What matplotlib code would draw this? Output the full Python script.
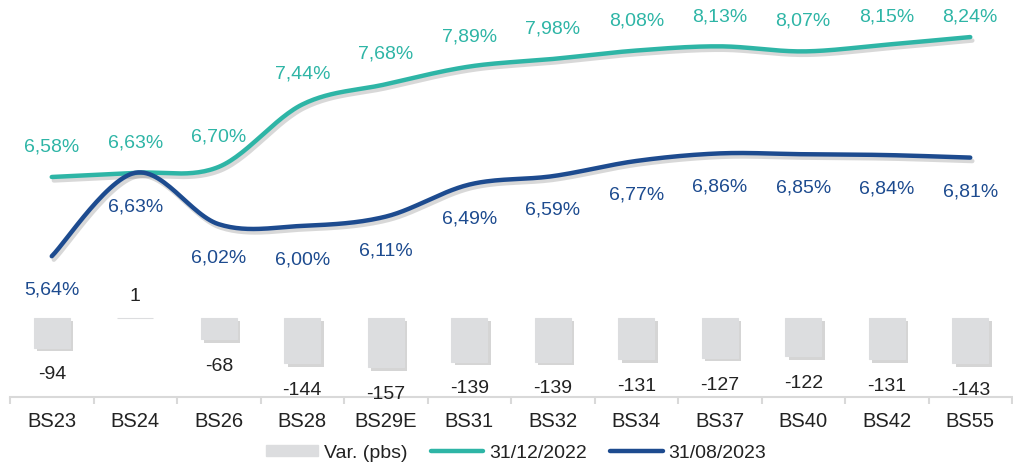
import numpy as np
import matplotlib
matplotlib.use("Agg")
import matplotlib.pyplot as plt
import matplotlib.patheffects as pe
from matplotlib.lines import Line2D
from matplotlib.patches import Patch

categories = ["BS23", "BS24", "BS26", "BS28", "BS29E", "BS31", "BS32", "BS34", "BS37", "BS40", "BS42", "BS55"]
dec2022 = [6.58, 6.63, 6.70, 7.44, 7.68, 7.89, 7.98, 8.08, 8.13, 8.07, 8.15, 8.24]
aug2023 = [5.64, 6.63, 6.02, 6.00, 6.11, 6.49, 6.59, 6.77, 6.86, 6.85, 6.84, 6.81]
var_pbs = [-94, 1, -68, -144, -157, -139, -139, -131, -127, -122, -131, -143]

FONT = "Liberation Sans"
TEAL = "#2EB5A6"
NAVY = "#1D4B8F"
BARC = "#DCDDDF"
AXC = "#D9D9D9"
TXT = "#222222"

def smooth(xs, ys, n=30):
    xs = np.asarray(xs, float); ys = np.asarray(ys, float)
    px = np.concatenate([[xs[0]], xs, [xs[-1]]])
    py = np.concatenate([[ys[0]], ys, [ys[-1]]])
    ox, oy = [], []
    t = np.linspace(0, 1, n)
    for i in range(1, len(px) - 2):
        p0x, p1x, p2x, p3x = px[i-1], px[i], px[i+1], px[i+2]
        p0y, p1y, p2y, p3y = py[i-1], py[i], py[i+1], py[i+2]
        c1x = p1x + (p2x - p0x) / 6; c1y = p1y + (p2y - p0y) / 6
        c2x = p2x - (p3x - p1x) / 6; c2y = p2y - (p3y - p1y) / 6
        bx = (1-t)**3*p1x + 3*(1-t)**2*t*c1x + 3*(1-t)*t**2*c2x + t**3*p2x
        by = (1-t)**3*p1y + 3*(1-t)**2*t*c1y + 3*(1-t)*t**2*c2y + t**3*p2y
        ox.extend(bx); oy.extend(by)
    return np.array(ox), np.array(oy)

fig = plt.figure(figsize=(10.13, 4.68), dpi=100)
ax = fig.add_axes([10/1013, 71/468, 1002/1013, 387/468])
ax2 = ax.twinx()

x = np.arange(len(categories))
ax.set_xlim(-0.5, len(categories) - 0.5)
ax.set_ylim(3.970, 8.561)
ax2.set_ylim(-250.8, 977.8)

shadow = [pe.SimpleLineShadow(offset=(1.5, -2.5), shadow_color="#808080", alpha=0.3), pe.Normal()]
for data, col in [(dec2022, TEAL), (aug2023, NAVY)]:
    sx, sy = smooth(x, data)
    ax.plot(sx, sy, color=col, lw=3.2, solid_capstyle="round", path_effects=shadow, zorder=3)

for i, v in enumerate(dec2022):
    ax.text(x[i], min(v + 0.356, 8.478), f"{v:.2f}%".replace(".", ","),
            ha="center", va="center", color=TEAL, fontsize=14, family=FONT)
for i, v in enumerate(aug2023):
    ax.annotate(f"{v:.2f}%".replace(".", ","), (x[i], v), xytext=(0, -24.5), textcoords="offset points",
                ha="center", va="center", color=NAVY, fontsize=14, family=FONT)

bars = ax2.bar(x, var_pbs, width=0.43, color=BARC, edgecolor=BARC, linewidth=0.8, zorder=2)
for b in bars:
    b.set_path_effects([pe.SimplePatchShadow(offset=(2.5, -2.5), shadow_rgbFace="#888888", alpha=0.35), pe.Normal()])
for i, v in enumerate(var_pbs):
    off = -19.5 if v < 0 else 15
    ax2.annotate(f"{v}", (x[i], v), xytext=(0, off), textcoords="offset points",
                 ha="center", va="center", color=TXT, fontsize=14, family=FONT)

for a in (ax, ax2):
    for s in a.spines.values():
        s.set_visible(False)
    a.set_yticks([])
ax.spines["bottom"].set_visible(True)
ax.spines["bottom"].set_color(AXC)
ax.spines["bottom"].set_linewidth(1.5)
ax.set_xticks(x)
ax.set_xticklabels(categories, family=FONT, fontsize=14.5, color=TXT)
ax.tick_params(axis="x", which="major", length=0, pad=11)
ax.set_xticks(np.arange(-0.5, len(categories) - 0.4, 1), minor=True)
ax.tick_params(axis="x", which="minor", length=5, width=1.5, color=AXC)

handles = [Patch(facecolor=BARC, edgecolor=BARC),
           Line2D([0], [0], color=TEAL, lw=3.2, solid_capstyle="round"),
           Line2D([0], [0], color=NAVY, lw=3.2, solid_capstyle="round")]
labels = ["Var. (pbs)", "31/12/2022", "31/08/2023"]
fig.legend(handles, labels, loc="center", bbox_to_anchor=(516/1013, 1 - 453/468), ncol=3, frameon=False,
           prop={"family": FONT, "size": 14}, handlelength=2.7, handleheight=0.5,
           handletextpad=0.3, columnspacing=1.2, labelcolor=TXT)

fig.savefig("out.png", dpi=100)
